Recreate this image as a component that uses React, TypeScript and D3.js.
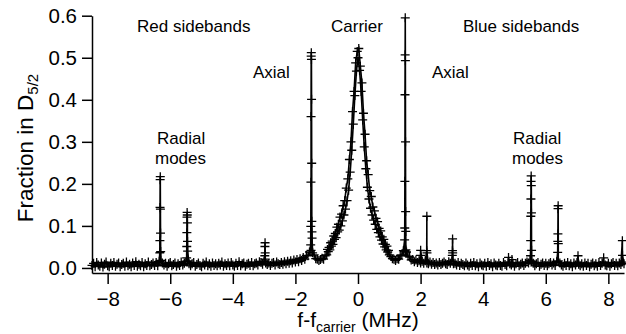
import React from "react";
import * as d3 from "d3";

// frequency scan, evenly stepped from -8.5 MHz
const scanStart = -8.5;
const scanStep = 0.05;
const scanFraction = [
  0.006, 0.011, 0.003, 0.013, 0.007, 0.004, 0.012, 0.002, 0.009, 0.014, 0.005, 0.003, 0.011, 0.006, 0.013, 0.004, 0.009, 0.012, 0.003, 0.008,
  0.011, 0.004, 0.014, 0.005, 0.009, 0.003, 0.012, 0.006, 0.015, 0.004, 0.009, 0.005, 0.013, 0.003, 0.010, 0.006, 0.014, 0.005, 0.008, 0.012,
  0.006, 0.013, 0.005, 0.016, 0.018, 0.012, 0.007, 0.011, 0.004, 0.010, 0.013, 0.005, 0.008, 0.012, 0.004, 0.010, 0.006, 0.014, 0.007, 0.011,
  0.015, 0.017, 0.010, 0.005, 0.010, 0.013, 0.004, 0.008, 0.012, 0.006, 0.003, 0.011, 0.007, 0.014, 0.005, 0.010, 0.004, 0.012, 0.006, 0.010,
  0.005, 0.011, 0.007, 0.014, 0.004, 0.010, 0.006, 0.012, 0.005, 0.013, 0.007, 0.004, 0.011, 0.006, 0.015, 0.005, 0.010, 0.012, 0.004, 0.009,
  0.011, 0.006, 0.013, 0.005, 0.010, 0.012, 0.007, 0.015, 0.013, 0.009, 0.016, 0.012, 0.008, 0.012, 0.006, 0.011, 0.013, 0.007, 0.014, 0.010,
  0.008, 0.013, 0.009, 0.015, 0.010, 0.016, 0.011, 0.017, 0.012, 0.019, 0.014, 0.020, 0.015, 0.022, 0.018, 0.025, 0.021, 0.030, 0.029, 0.038,
  0.042, 0.036, 0.031, 0.022, 0.021, 0.018, 0.020, 0.023, 0.021, 0.029, 0.031, 0.039, 0.043, 0.052, 0.056, 0.068, 0.072, 0.086, 0.090, 0.100,
  0.112, 0.126, 0.140, 0.160, 0.185, 0.228, 0.280, 0.342, 0.410, 0.468, 0.500, 0.470, 0.420, 0.352, 0.288, 0.236, 0.192, 0.164, 0.142, 0.126,
  0.114, 0.104, 0.092, 0.084, 0.074, 0.066, 0.057, 0.050, 0.043, 0.038, 0.031, 0.027, 0.022, 0.021, 0.018, 0.022, 0.021, 0.029, 0.031, 0.041,
  0.040, 0.038, 0.028, 0.026, 0.019, 0.020, 0.015, 0.019, 0.013, 0.017, 0.012, 0.016, 0.011, 0.017, 0.012, 0.010, 0.014, 0.009, 0.013, 0.008,
  0.012, 0.007, 0.013, 0.008, 0.011, 0.014, 0.010, 0.008, 0.015, 0.011, 0.016, 0.010, 0.011, 0.007, 0.013, 0.006, 0.011, 0.008, 0.005, 0.012,
  0.007, 0.004, 0.011, 0.006, 0.013, 0.005, 0.010, 0.003, 0.012, 0.007, 0.005, 0.011, 0.004, 0.013, 0.006, 0.010, 0.003, 0.012, 0.007, 0.005,
  0.011, 0.006, 0.004, 0.013, 0.008, 0.005, 0.014, 0.010, 0.007, 0.011, 0.004, 0.010, 0.013, 0.005, 0.009, 0.012, 0.006, 0.011, 0.014, 0.012,
  0.018, 0.016, 0.011, 0.005, 0.010, 0.013, 0.004, 0.009, 0.012, 0.006, 0.011, 0.005, 0.010, 0.013, 0.007, 0.012, 0.006, 0.015, 0.017, 0.012,
  0.007, 0.004, 0.011, 0.006, 0.013, 0.005, 0.010, 0.003, 0.012, 0.007, 0.013, 0.009, 0.005, 0.010, 0.004, 0.012, 0.006, 0.011, 0.003, 0.009,
  0.012, 0.005, 0.010, 0.004, 0.013, 0.006, 0.011, 0.014, 0.007, 0.005, 0.011, 0.004, 0.010, 0.013, 0.006, 0.011, 0.005, 0.012, 0.008, 0.014,
  0.010,
];

// second pass over the carrier, offset half a step
const carrierRepeatStart = -0.975;
const carrierRepeatFraction = [
  0.044, 0.049, 0.060, 0.064, 0.076, 0.082, 0.097, 0.104, 0.121, 0.128,
  0.148, 0.160, 0.190, 0.212, 0.258, 0.300, 0.372, 0.420, 0.488, 0.515,
  0.522, 0.480, 0.440, 0.368, 0.318, 0.255, 0.222, 0.184, 0.170, 0.145,
  0.136, 0.118, 0.110, 0.094, 0.088, 0.074, 0.068, 0.056, 0.052, 0.042,
];

// narrow sideband resonances, sampled finely across each line
const spikeStep = 0.004;
const spikeFreqs = [-6.32, -5.46, -2.97, -1.49, 1.51, 2.0, 2.2, 3.02, 4.81, 4.92, 5.53, 6.39, 7.03, 7.85, 8.45];
const spikeHeights = [
  [0.036, 0.065, 0.144, 0.21, 0.217, 0.14, 0.083, 0.039],
  [0.024, 0.051, 0.084, 0.121, 0.132, 0.126, 0.107, 0.063, 0.04],
  [0.029, 0.051, 0.06, 0.036, 0.021],
  [0.055, 0.099, 0.204, 0.36, 0.504, 0.512, 0.496, 0.401, 0.249, 0.111, 0.086, 0.071],
  [0.067, 0.095, 0.206, 0.412, 0.507, 0.595, 0.493, 0.3, 0.134, 0.087, 0.043],
  [0.03, 0.042],
  [0.041, 0.123, 0.036],
  [0.03, 0.041, 0.069, 0.036],
  [0.025],
  [0.02],
  [0.029, 0.065, 0.123, 0.164, 0.206, 0.219, 0.196, 0.131, 0.042],
  [0.037, 0.063, 0.081, 0.141, 0.148, 0.058],
  [0.029],
  [0.024],
  [0.065, 0.03],
];

const xTicks = [-8, -6, -4, -2, 0, 2, 4, 6, 8];
const yTicks = [0, 0.1, 0.2, 0.3, 0.4, 0.5, 0.6];

const W = 626;
const H = 334;
const font = "Arial, 'Liberation Sans', sans-serif";

function crosses(pts: [number, number][], x: any, y: any, s: number) {
  return pts
    .map(([f, v]) => {
      const px = x(f);
      const py = y(v);
      return `M${px - s},${py}h${2 * s}M${px},${py - s}v${2 * s}`;
    })
    .join("");
}

export default function App() {
  const x = d3.scaleLinear().domain([-8.5, 8.5]).range([92, 624]);
  const y = d3.scaleLinear().domain([-0.012, 0.6]).range([273, 15.7]);

  const pts: [number, number][] = scanFraction.map((v, i) => [scanStart + i * scanStep, v]);
  spikeFreqs.forEach((f, k) => {
    const hs = spikeHeights[k];
    hs.forEach((v, j) => pts.push([f + (j - (hs.length - 1) / 2) * spikeStep, v]));
  });
  pts.sort((a, b) => a[0] - b[0]);

  const repeat: [number, number][] = carrierRepeatFraction.map((v, i) => [carrierRepeatStart + i * scanStep, v]);

  const line = d3
    .line<[number, number]>()
    .x((d) => x(d[0]))
    .y((d) => y(d[1]));

  const axisLeftRef = (g: SVGGElement | null) => {
    if (!g) return;
    const sel = d3.select(g);
    sel.selectAll("*").remove();
    sel.call(
      d3
        .axisLeft(y)
        .tickValues(yTicks)
        .tickFormat(d3.format(".1f"))
        .tickSize(10)
        .tickSizeOuter(0)
        .tickPadding(5)
    );
    sel.select(".domain").attr("stroke-width", 1.5);
    sel.selectAll(".tick line").attr("stroke-width", 1.5);
    sel.selectAll("text").style("font-family", font).style("font-size", "20.5px").attr("fill", "#000");
  };

  const axisBottomRef = (g: SVGGElement | null) => {
    if (!g) return;
    const sel = d3.select(g);
    sel.selectAll("*").remove();
    sel.call(d3.axisBottom(x).tickValues(xTicks).tickFormat(d3.format("d")).tickSize(11).tickSizeOuter(0).tickPadding(7));
    sel.select(".domain").attr("stroke-width", 1.5);
    sel.selectAll(".tick line").attr("stroke-width", 1.5);
    sel.selectAll("text").style("font-family", font).style("font-size", "20.5px").attr("fill", "#000");
  };

  return (
    <svg width={W} height={H} style={{ position: "absolute", left: 0, top: 0, background: "#fff" }}>
      <path d={line(pts) || ""} fill="none" stroke="#000" strokeWidth={1.6} />
      <path d={line(repeat) || ""} fill="none" stroke="#000" strokeWidth={1.6} />
      <path d={crosses(pts, x, y, 4.5)} fill="none" stroke="#000" strokeWidth={1.3} />
      <path d={crosses(repeat, x, y, 4.5)} fill="none" stroke="#000" strokeWidth={1.3} />

      <g ref={axisLeftRef} transform="translate(92,0)" />
      <g ref={axisBottomRef} transform="translate(0,273)" />

      <g fontFamily={font} fontSize={17} fill="#000">
        <text x={137} y={31.5}>Red sidebands</text>
        <text x={331} y={31.5}>Carrier</text>
        <text x={463} y={31.5}>Blue sidebands</text>
        <text x={253} y={78}>Axial</text>
        <text x={432} y={78}>Axial</text>
        <text x={157} y={143.5}>Radial</text>
        <text x={155} y={164}>modes</text>
        <text x={513} y={143.5}>Radial</text>
        <text x={512} y={164}>modes</text>
      </g>

      <text transform="translate(33,148) rotate(-90)" textAnchor="middle" fontFamily={font} fontSize={22.5}>
        Fraction in D<tspan dy={5} fontSize={15}>5/2</tspan>
      </text>
      <text x={358} y={327} textAnchor="middle" fontFamily={font} fontSize={21}>
        f-f<tspan dy={5} fontSize={14}>carrier</tspan>
        <tspan dy={-5}> (MHz)</tspan>
      </text>
    </svg>
  );
}
